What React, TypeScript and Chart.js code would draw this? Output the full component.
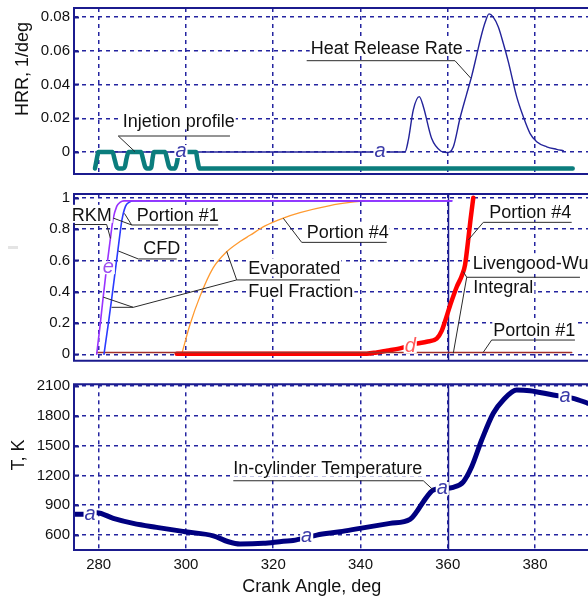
import React, { useEffect, useRef } from "react";
import { Chart, registerables } from "chart.js";

Chart.register(...registerables);

const FONT = "'Liberation Sans', Arial, Helvetica, sans-serif";
const NAVY = "#1b1b8e";
const GRID = "#2424a0";
const X_MIN = 274.34;
const X_MAX = 392.15;
const xTicks = [280, 300, 320, 340, 360, 380];

// ---------- Panel 1 : heat release rate + injection profile ----------
const hrrTicks = [0, 0.02, 0.04, 0.06, 0.08];
const injAngle = [279.15, 279.5, 279.95, 283.16, 283.62, 284.08, 284.65, 285.57, 286.03, 286.37, 286.83, 289.7, 290.15, 290.61, 291.07, 291.76, 292.1, 292.33, 292.68, 295.2, 295.66, 296.11, 296.57, 297.49, 297.95, 298.41, 302.3, 302.64, 303.1, 388.64];
const injValue = [-0.0097, -0.005, 0, 0, -0.004, -0.0085, -0.0097, -0.0097, -0.0085, -0.004, 0, 0, -0.004, -0.0085, -0.0097, -0.0097, -0.0085, -0.004, 0, 0, -0.004, -0.0085, -0.0097, -0.0097, -0.006, 0, 0, -0.005, -0.0097, -0.0097];
const hrrAngle = [279.3, 350.2, 350.96, 352.11, 353.48, 354.4, 356.32, 358.46, 359.76, 361.27, 362.81, 364.3, 365.49, 366.6, 367.6, 368.6, 369.46, 370.4, 371.6, 372.73, 373.88, 375.8, 377.32, 378.85, 380.39, 382.68, 384.97, 386.49];
const hrrValue = [0, 0, 0.007, 0.025, 0.0328, 0.027, 0.008, 0.0005, -0.0003, 0.003, 0.02, 0.034, 0.045, 0.057, 0.068, 0.077, 0.0818, 0.08, 0.074, 0.0644, 0.0535, 0.0328, 0.0209, 0.0111, 0.0061, 0.0031, 0.0016, 0.0008];

// ---------- Panel 2 : evaporated fraction / Livengood-Wu integral ----------
const fracTicks = [0, 0.2, 0.4, 0.6, 0.8, 1];
const rkmAngle = [279.54, 280.3, 281.05, 281.67, 282.59, 283.28, 284.13, 284.88, 285.8, 360.91];
const rkmValue = [0, 0.18, 0.37, 0.52, 0.72, 0.86, 0.945, 0.97, 0.98, 0.98];
const cfdAngle = [281.21, 282.13, 283.05, 283.74, 284.65, 285.34, 286.14, 286.94, 287.86, 360.91];
const cfdValue = [0, 0.18, 0.37, 0.52, 0.72, 0.86, 0.945, 0.97, 0.98, 0.98];
const evap4Angle = [299.02, 300.93, 303.22, 306.2, 309.34, 312.39, 314.68, 318.12, 322.31, 326.14, 333.01, 337.6, 341.04];
const evap4Value = [0, 0.19, 0.37, 0.55, 0.655, 0.72, 0.76, 0.82, 0.87, 0.905, 0.95, 0.97, 0.98];
const lw4Angle = [297.88, 341.43, 343.72, 346.01, 349.06, 352.89, 355.18, 357.47, 358.62, 359.37, 360.52, 362.05, 363.2, 363.96, 364.65, 365.22, 365.86];
const lw4Value = [0.004, 0.004, 0.012, 0.023, 0.038, 0.068, 0.08, 0.1, 0.15, 0.21, 0.31, 0.43, 0.5, 0.57, 0.72, 0.86, 1.0];
const lw1Angle = [279.54, 388.41];
const lw1Value = [0.012, 0.012];

// ---------- Panel 3 : in-cylinder temperature ----------
const tempTicks = [600, 900, 1200, 1500, 1800, 2100];
const tempAngle = [274.34, 276.8, 279.6, 283.35, 287.93, 293.29, 299.85, 306.27, 309.73, 312.39, 317.73, 322.31, 324.53, 329.97, 335.32, 339.89, 346.77, 351.35, 352.88, 354.41, 356.7, 358.75, 361.27, 363.57, 365.49, 367.78, 370.44, 372.73, 375.8, 378.85, 384.19, 388.77, 392.15];
const tempValue = [808, 808, 824, 768, 717, 677, 633, 592, 532, 509, 516, 538, 545, 599, 633, 667, 717, 758, 834, 935, 1053, 1068, 1080, 1136, 1287, 1556, 1825, 1959, 2060, 2053, 2009, 1976, 1926];

type Note = { text: string; x: number; y: number };
type Mark = { text: string; x: number; y: number; color: string };
type Title = { text: string; px: number; py: number; rotate?: boolean };
type Decor = {
  notes: Note[];
  lines: number[][][];
  marks: Mark[];
  solidX: number[];
  titles: Title[];
};

const MARK_A = "#3a3aa8";

const decor1: Decor = {
  notes: [
    { text: "Injetion profile", x: 285.5, y: 0.0182 },
    { text: "Heat Release Rate", x: 328.6, y: 0.0617 },
  ],
  lines: [
    [[310.09, 0.0095], [284.49, 0.0095], [288.32, 0.0002]],
    [[327.67, 0.0541], [361.66, 0.0541], [365.3, 0.0437]],
  ],
  marks: [
    { text: "a", x: 298.86, y: 0, color: MARK_A },
    { text: "a", x: 344.47, y: 0, color: MARK_A },
  ],
  solidX: [],
  titles: [{ text: "HRR, 1/deg", px: 23.5, py: 69, rotate: true }],
};

const decor2: Decor = {
  notes: [
    { text: "RKM", x: 273.8, y: 0.891 },
    { text: "Portion #1", x: 288.71, y: 0.89 },
    { text: "CFD", x: 290.22, y: 0.676 },
    { text: "Evaporated", x: 314.29, y: 0.549 },
    { text: "Fuel Fraction", x: 314.29, y: 0.404 },
    { text: "Portion #4", x: 327.67, y: 0.783 },
    { text: "Portion #4", x: 369.53, y: 0.911 },
    { text: "Livengood-Wu", x: 365.72, y: 0.582 },
    { text: "Integral", x: 365.86, y: 0.427 },
    { text: "Portoin #1", x: 370.44, y: 0.155 },
  ],
  lines: [
    [[274.34, 0.829], [281.83, 0.829], [282.7, 0.74]],
    [[307.41, 0.826], [287.56, 0.826], [285.9, 0.9]],
    [[287.56, 0.826], [283.35, 0.87]],
    [[297.88, 0.609], [289.08, 0.609], [284.5, 0.66]],
    [[335.31, 0.475], [311.63, 0.475], [309.34, 0.657]],
    [[311.63, 0.475], [287.93, 0.3], [281.05, 0.365]],
    [[287.93, 0.3], [282.95, 0.3]],
    [[346.01, 0.715], [326.53, 0.715], [322.31, 0.869]],
    [[388.41, 0.843], [368.15, 0.843], [364.7, 0.73]],
    [[390.31, 0.492], [364.35, 0.492], [363.57, 0.528]],
    [[364.35, 0.492], [361.27, 0.006]],
    [[389.16, 0.091], [370.07, 0.091], [368.15, 0.013]],
  ],
  marks: [
    { text: "e", x: 282.2, y: 0.55, color: "#9d4df0" },
    { text: "d", x: 351.4, y: 0.045, color: "#ff5a5a" },
  ],
  solidX: [360],
  titles: [],
};

const decor3: Decor = {
  notes: [{ text: "In-cylinder Temperature", x: 310.85, y: 1270 }],
  lines: [[[310.85, 1146], [354.4, 1146], [356.69, 1053]]],
  marks: [
    { text: "a", x: 278.03, y: 800, color: MARK_A },
    { text: "a", x: 327.67, y: 575, color: MARK_A },
    { text: "a", x: 358.75, y: 1063, color: MARK_A },
    { text: "a", x: 386.88, y: 1985, color: MARK_A },
  ],
  solidX: [360],
  titles: [
    { text: "T, K", px: 19.5, py: 87, rotate: true },
    { text: "Crank Angle, deg", px: 311.7, py: 219 },
  ],
};

const decorPlugin = {
  id: "decor",
  beforeDatasetsDraw(chart: any, _a: any, opts: Decor) {
    const { ctx, chartArea: a, scales } = chart;
    ctx.save();
    ctx.strokeStyle = NAVY;
    ctx.lineWidth = 1.5;
    for (const v of opts.solidX || []) {
      const px = Math.round(scales.x.getPixelForValue(v)) + 0.5;
      ctx.beginPath();
      ctx.moveTo(px, a.top);
      ctx.lineTo(px, a.bottom);
      ctx.stroke();
    }
    ctx.restore();
  },
  afterDatasetsDraw(chart: any, _a: any, opts: Decor) {
    const { ctx, chartArea: a, scales } = chart;
    const xs = scales.x;
    const ys = scales.y;
    const P = (p: number[]) => [xs.getPixelForValue(p[0]), ys.getPixelForValue(p[1])];
    ctx.save();
    // frame (right side lies outside the picture)
    ctx.strokeStyle = NAVY;
    ctx.lineWidth = 2;
    ctx.beginPath();
    ctx.moveTo(a.right + 2, a.top);
    ctx.lineTo(a.left, a.top);
    ctx.lineTo(a.left, a.bottom);
    ctx.lineTo(a.right + 2, a.bottom);
    ctx.stroke();
    for (const t of ys.ticks) {
      const py = Math.round(ys.getPixelForValue(t.value)) + 0.5;
      ctx.beginPath();
      ctx.moveTo(a.left, py);
      ctx.lineTo(a.left + 5, py);
      ctx.stroke();
    }
    // curve letters
    ctx.font = `italic 20px ${FONT}`;
    ctx.textAlign = "center";
    ctx.textBaseline = "alphabetic";
    for (const m of opts.marks) {
      const [px, py] = P([m.x, m.y]);
      const w = ctx.measureText(m.text).width;
      ctx.fillStyle = "#ffffff";
      ctx.fillRect(px - w / 2 - 1, py - 7, w + 2, 13);
      ctx.fillStyle = m.color;
      ctx.fillText(m.text, px, py + 5);
    }
    // notes
    ctx.font = `18px ${FONT}`;
    ctx.textAlign = "left";
    ctx.textBaseline = "middle";
    for (const n of opts.notes) {
      const [px, py] = P([n.x, n.y]);
      const w = ctx.measureText(n.text).width;
      ctx.fillStyle = "#ffffff";
      ctx.fillRect(px - 1, py - 10, w + 2, 18);
      ctx.fillStyle = "#111111";
      ctx.fillText(n.text, px, py + 1);
    }
    // leader lines
    ctx.strokeStyle = "#2a2a2a";
    ctx.lineWidth = 1;
    for (const l of opts.lines) {
      ctx.beginPath();
      l.forEach((p, i) => {
        const [px, py] = P(p);
        if (i === 0) ctx.moveTo(px, py);
        else ctx.lineTo(px, py);
      });
      ctx.stroke();
    }
    ctx.restore();
  },
  afterDraw(chart: any, _a: any, opts: Decor) {
    const { ctx } = chart;
    ctx.save();
    ctx.font = `18px ${FONT}`;
    ctx.fillStyle = "#111111";
    ctx.textAlign = "center";
    ctx.textBaseline = "middle";
    for (const t of opts.titles || []) {
      ctx.save();
      ctx.translate(t.px, t.py);
      if (t.rotate) ctx.rotate(-Math.PI / 2);
      ctx.fillText(t.text, 0, 0);
      ctx.restore();
    }
    ctx.restore();
  },
};

function series(xs: number[], ys: number[], color: string, width: number) {
  return {
    data: xs.map((x, i) => ({ x, y: ys[i] })),
    borderColor: color,
    backgroundColor: color,
    borderWidth: width,
    pointRadius: 0,
    fill: false,
    cubicInterpolationMode: "monotone" as const,
    borderJoinStyle: "round" as const,
    borderCapStyle: "round" as const,
  };
}

type PanelSpec = {
  top: number;
  height: number;
  padTop: number;
  padBottom: number;
  yMin: number;
  yMax: number;
  yTicks: number[];
  showX: boolean;
  datasets: any[];
  decor: Decor;
};

const tickFont = { family: FONT, size: 15 };

function buildConfig(p: PanelSpec): any {
  return {
    type: "line",
    data: { datasets: p.datasets },
    plugins: [decorPlugin],
    options: {
      responsive: false,
      animation: false,
      events: [],
      layout: { padding: { top: p.padTop, bottom: p.padBottom, left: 0, right: 0 } },
      plugins: {
        legend: { display: false },
        tooltip: { enabled: false },
        decor: p.decor,
      },
      scales: {
        x: {
          type: "linear",
          min: X_MIN,
          max: X_MAX,
          afterBuildTicks: (s: any) => {
            s.ticks = xTicks.map((v) => ({ value: v }));
          },
          afterFit: (s: any) => {
            s.height = p.showX ? 54 : 0;
            s.paddingLeft = 0;
            s.paddingRight = 0;
          },
          grid: { color: GRID, lineWidth: 1.5, drawTicks: false },
          border: { display: false, dash: [4, 4] },
          ticks: {
            display: p.showX,
            padding: 6,
            font: tickFont,
            color: "#111111",
            maxRotation: 0,
            autoSkip: false,
            callback: (v: number) => String(v),
          },
        },
        y: {
          type: "linear",
          min: p.yMin,
          max: p.yMax,
          afterBuildTicks: (s: any) => {
            s.ticks = p.yTicks.map((v) => ({ value: v }));
          },
          afterFit: (s: any) => {
            s.width = 74;
            s.paddingTop = 0;
            s.paddingBottom = 0;
          },
          grid: { color: GRID, lineWidth: 1.5, drawTicks: false },
          border: { display: false, dash: [4, 4] },
          ticks: {
            padding: 4,
            font: tickFont,
            color: "#111111",
            autoSkip: false,
            callback: (v: number) => String(v),
          },
        },
      },
    },
  };
}

const panels: PanelSpec[] = [
  {
    top: 0,
    height: 184,
    padTop: 8,
    padBottom: 10,
    yMin: -0.013,
    yMax: 0.0853,
    yTicks: hrrTicks,
    showX: false,
    datasets: [
      series(injAngle, injValue, "#0b7d7d", 4.5),
      series(hrrAngle, hrrValue, "#23239a", 1.4),
    ],
    decor: decor1,
  },
  {
    top: 184,
    height: 184,
    padTop: 10,
    padBottom: 7.3,
    yMin: -0.041,
    yMax: 1.024,
    yTicks: fracTicks,
    showX: false,
    datasets: [
      series(rkmAngle, rkmValue, "#9933ff", 1.6),
      series(cfdAngle, cfdValue, "#2b3bff", 1.6),
      series(lw1Angle, lw1Value, "#a0302a", 1.5),
      series(lw4Angle, lw4Value, "#ff0000", 4.5),
      series(evap4Angle, evap4Value, "#ff9a30", 1.3),
    ],
    decor: decor2,
  },
  {
    top: 368,
    height: 236,
    padTop: 16.3,
    padBottom: 0,
    yMin: 449,
    yMax: 2117,
    yTicks: tempTicks,
    showX: true,
    datasets: [series(tempAngle, tempValue, "#000080", 5)],
    decor: decor3,
  },
];

function Panel({ spec }: { spec: PanelSpec }) {
  const ref = useRef<HTMLCanvasElement | null>(null);
  useEffect(() => {
    if (!ref.current) return;
    const chart = new Chart(ref.current, buildConfig(spec));
    return () => chart.destroy();
  }, [spec]);
  return (
    <canvas
      ref={ref}
      width={588}
      height={spec.height}
      style={{ position: "absolute", left: 0, top: spec.top, width: 588, height: spec.height, display: "block" }}
    />
  );
}

export default function App() {
  return (
    <div
      style={{
        position: "absolute",
        left: 0,
        top: 0,
        width: 588,
        height: 604,
        overflow: "hidden",
        background: "#ffffff",
      }}
    >
      {panels.map((p, i) => (
        <Panel key={i} spec={p} />
      ))}
      <div style={{ position: "absolute", left: 8, top: 246, width: 10, height: 3, background: "#e4e4e4" }} />
    </div>
  );
}
